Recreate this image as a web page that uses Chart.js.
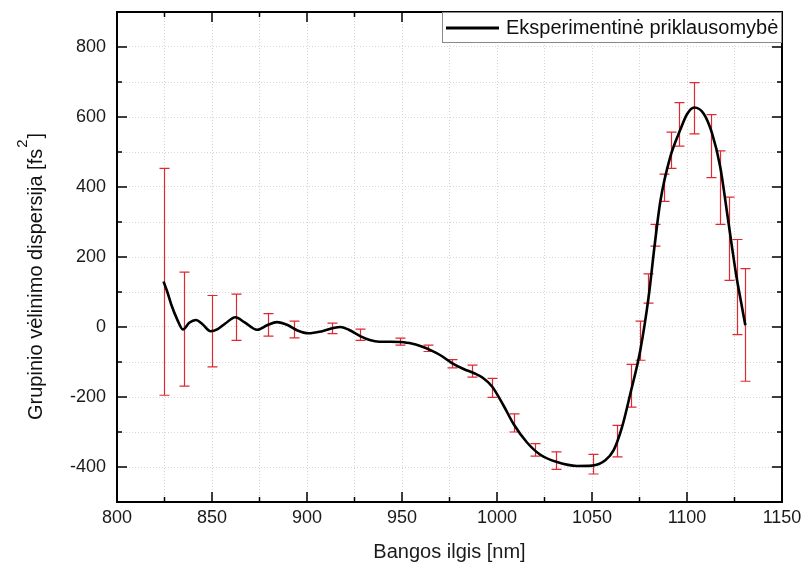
<!DOCTYPE html>
<html>
<head>
<meta charset="utf-8">
<title>Grupinio vėlinimo dispersija</title>
<script src="https://cdn.jsdelivr.net/npm/chart.js@4.4.1/dist/chart.umd.min.js"></script>
<style>
  html, body { margin: 0; padding: 0; background: #fff; }
  canvas { display: block; }
</style>
</head>
<body>
<canvas id="chart" width="805" height="572"></canvas>
<script>
(function(){
  'use strict';

  // smooth experimental curve (nm, fs^2)
  let curveX = [824.5, 826.5, 828.5, 831.5, 834.7, 838, 841.5, 845, 849.3, 853, 857, 862.3, 867, 873.7, 879, 884.2, 890, 895, 900.8, 908, 914, 917.5, 922, 928, 933, 938, 944, 949, 955, 960, 965, 970, 976.3, 982.4, 988, 992.5, 997.4, 1003.5, 1008.8, 1015.8, 1022.8, 1031.6, 1042, 1050, 1057, 1061.4, 1065.8, 1070.2, 1075.4, 1079.8, 1083, 1086, 1091.2, 1096.5, 1100, 1103.8, 1108.7, 1113.2, 1117.5, 1121, 1123.7, 1126, 1128.5, 1130.7];
  let curveY = [130, 100, 65, 24, -7, 12, 20, 8, -12, -6, 10, 28, 14, -8, 5, 14, 5, -10, -18, -12, -3, 0, -8, -26, -37, -42, -42, -43, -47, -55, -66, -80, -103, -120, -132, -145, -170, -225, -278, -330, -365, -386, -397, -396, -381, -352, -286, -190, -67, 86, 235, 360, 486, 564, 608, 627, 610, 553, 457, 330, 228, 145, 70, 5];

  // measured points with error bars
  let errX = [824.5, 835, 850, 862.8, 879.5, 893, 913, 928, 949, 963.5, 976.3, 986.8, 997.4, 1008.8, 1020, 1031.2, 1050.3, 1063.2, 1070.7, 1075, 1079.5, 1083.3, 1087.7, 1091.7, 1096, 1103.8, 1112.8, 1117.5, 1121.9, 1126.3, 1130.7];
  let errY = [129, -6, -12, 28, 6, -7, -4, -22, -42, -61, -105, -126, -174, -274, -351, -382, -392, -326, -168, -39, 110, 262, 398, 505, 579, 625, 517, 398, 252, 114, 6];
  let errD = [324, 163, 102, 66, 32, 24, 15, 16, 10, 9, 12, 17, 27, 26, 18, 25, 28, 45, 61, 56, 42, 31, 39, 52, 62, 73, 90, 105, 119, 136, 161];

  let xMajor = [800, 850, 900, 950, 1000, 1050, 1100, 1150];
  let yMajor = [-400, -200, 0, 200, 400, 600, 800];

  let seriesLabel = 'Eksperimentinė priklausomybė';
  let xTitle = 'Bangos ilgis [nm]';
  let yTitle = 'Grupinio vėlinimo dispersija [fs';

  let fontFamily = '"Liberation Sans", Arial, sans-serif';
  Chart.defaults.font.family = fontFamily;
  Chart.defaults.color = '#1a1a1a';

  let canvas = document.getElementById('chart');

  // red error bars, drawn under the black line
  let errorBars = {
    id: 'errorBars',
    beforeDatasetsDraw(chart) {
      let ctx = chart.ctx;
      let x = chart.scales.x;
      let y = chart.scales.y;
      ctx.save();
      ctx.strokeStyle = 'rgb(222,40,50)';
      ctx.lineWidth = 1.2;
      errX.forEach(function(v, i){
        let px = Math.round(x.getPixelForValue(v)) + 0.5;
        let top = y.getPixelForValue(errY[i] + errD[i]);
        let bot = y.getPixelForValue(errY[i] - errD[i]);
        ctx.beginPath();
        ctx.moveTo(px, top); ctx.lineTo(px, bot);
        ctx.moveTo(px - 5, top); ctx.lineTo(px + 5, top);
        ctx.moveTo(px - 5, bot); ctx.lineTo(px + 5, bot);
        ctx.stroke();
      });
      ctx.restore();
    }
  };

  // frame, inward ticks, legend box and y title
  let frame = {
    id: 'frame',
    afterDraw(chart) {
      let ctx = chart.ctx;
      let a = chart.chartArea;
      let x = chart.scales.x;
      let y = chart.scales.y;
      ctx.save();
      ctx.strokeStyle = '#000';
      ctx.lineWidth = 2;
      ctx.strokeRect(a.left, a.top, a.right - a.left, a.bottom - a.top);

      ctx.lineWidth = 1.5;
      ctx.beginPath();
      x.ticks.forEach(function(t){
        let px = x.getPixelForValue(t.value);
        let len = xMajor.indexOf(t.value) >= 0 ? 10 : 5;
        ctx.moveTo(px, a.bottom); ctx.lineTo(px, a.bottom - len);
        ctx.moveTo(px, a.top); ctx.lineTo(px, a.top + len);
      });
      y.ticks.forEach(function(t){
        let py = y.getPixelForValue(t.value);
        let len = yMajor.indexOf(t.value) >= 0 ? 10 : 5;
        ctx.moveTo(a.left, py); ctx.lineTo(a.left + len, py);
        ctx.moveTo(a.right, py); ctx.lineTo(a.right - len, py);
      });
      ctx.stroke();

      // legend
      let lx = 442, ly = a.top, lw = a.right - 442, lh = 30;
      ctx.fillStyle = '#fff';
      ctx.fillRect(lx, ly, lw, lh);
      ctx.strokeStyle = '#8a8a8a';
      ctx.lineWidth = 1;
      ctx.strokeRect(lx + 0.5, ly + 0.5, lw - 1, lh);
      ctx.strokeStyle = '#000';
      ctx.lineWidth = 3;
      ctx.beginPath();
      ctx.moveTo(lx + 4, ly + 16); ctx.lineTo(lx + 57, ly + 16);
      ctx.stroke();
      ctx.fillStyle = '#111';
      ctx.font = '20px ' + fontFamily;
      ctx.textBaseline = 'middle';
      ctx.textAlign = 'left';
      ctx.fillText(chart.data.datasets[0].label, lx + 64, ly + 16);

      // rotated y title with superscript 2
      ctx.translate(42, 420);
      ctx.rotate(-Math.PI / 2);
      ctx.textBaseline = 'alphabetic';
      ctx.font = '20px ' + fontFamily;
      ctx.fillText(yTitle, 0, 0);
      let w = ctx.measureText(yTitle).width;
      ctx.font = '15px ' + fontFamily;
      ctx.fillText('2', w + 1, -15);
      let w2 = ctx.measureText('2').width;
      ctx.font = '20px ' + fontFamily;
      ctx.fillText(']', w + w2 + 2, 0);
      ctx.restore();
    }
  };

  let points = curveX.map(function(v, i){ return {x: v, y: curveY[i]}; });

  let gridOpts = {color: '#d6d6d6', lineWidth: 1, drawTicks: false};

  //instantiating the chart
  let chart = new Chart(canvas, {
    type: 'line',
    data: {
      datasets: [{
        label: seriesLabel,
        data: points,
        borderColor: '#000',
        borderWidth: 2.6,
        pointRadius: 0,
        fill: false,
        cubicInterpolationMode: 'monotone',
        borderJoinStyle: 'round',
      }],
    },
    options: {
      responsive: false,
      animation: false,
      devicePixelRatio: 1,
      layout: {padding: {top: 12, right: 23, left: 0, bottom: 0}},
      plugins: {
        legend: {display: false},
        tooltip: {enabled: false},
      },
      scales: {
        x: {
          type: 'linear',
          min: 800,
          max: 1150,
          grid: gridOpts,
          border: {display: false, dash: [1, 2]},
          ticks: {
            stepSize: 25,
            padding: 5,
            font: {size: 18},
            color: '#1a1a1a',
            maxRotation: 0,
            autoSkip: false,
            callback: function(v){ return xMajor.indexOf(v) >= 0 ? String(v) : ''; },
          },
          title: {display: true, text: xTitle, font: {size: 20}, color: '#1a1a1a', padding: {top: 0, bottom: 8}},
          afterFit: function(s){ s.height = 70; s.paddingLeft = 0; s.paddingRight = 0; },
        },
        y: {
          type: 'linear',
          min: -500,
          max: 900,
          grid: gridOpts,
          border: {display: false, dash: [1, 2]},
          ticks: {
            stepSize: 100,
            padding: 11,
            font: {size: 18},
            color: '#1a1a1a',
            autoSkip: false,
            callback: function(v){ return yMajor.indexOf(v) >= 0 ? String(v) : ''; },
          },
          afterFit: function(s){ s.width = 117; s.paddingTop = 0; s.paddingBottom = 0; },
        },
      },
    },
    plugins: [errorBars, frame],
  });

}) ();
</script>
</body>
</html>
